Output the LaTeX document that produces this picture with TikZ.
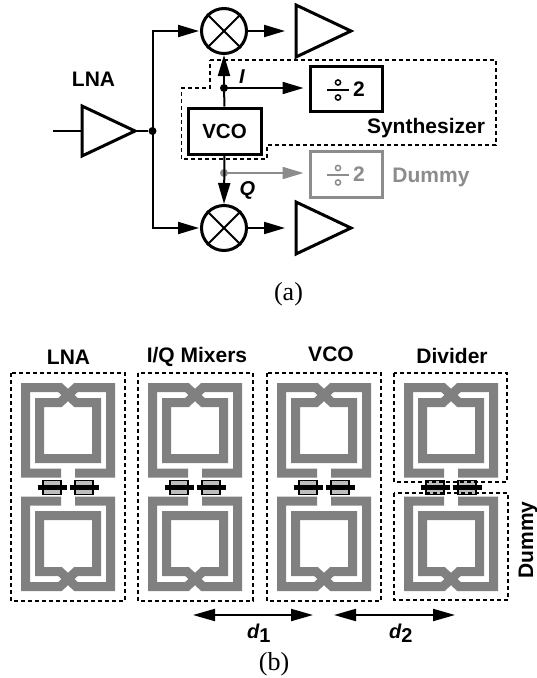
\documentclass[tikz,border=0pt]{standalone}
\usepackage{fontspec}
\setmainfont{Liberation Sans}
\newfontfamily\capfont{Liberation Serif}
\usetikzlibrary{arrows.meta}
\definecolor{dummygray}{HTML}{8C8C8C}
\definecolor{coilgray}{HTML}{808080}
\definecolor{fetgray}{HTML}{BDBDBD}
\tikzset{
  wire/.style={line width=2pt,line join=miter},
  tiparrow/.style={wire,-{Triangle[length=21pt,width=12pt]},shorten >=1pt},
  twoway/.style={wire,{Triangle[length=22pt,width=12pt]}-{Triangle[length=22pt,width=12pt]}},
  amp/.style={line width=3pt,line join=miter},
  mixer/.style={circle,draw,line width=3pt,minimum size=45pt,inner sep=0pt},
  blockbox/.style={rectangle,draw,line width=3pt,inner sep=0pt,font=\bfseries\fontsize{20.5}{22}\selectfont},
  junction/.style={circle,fill,inner sep=0pt,minimum size=8pt},
  dashbox/.style={line width=1.6pt,dash pattern=on 4pt off 3pt},
  lab/.style={font=\bfseries\fontsize{21}{23}\selectfont,inner sep=0pt},
  ital/.style={font=\bfseries\itshape\fontsize{20}{22}\selectfont,inner sep=0pt},
  captext/.style={font=\capfont\fontsize{26}{28}\selectfont,inner sep=0pt},
  coil/.style={coilgray,line width=9pt,line join=miter,miter limit=10},
}
\begin{document}
\begin{tikzpicture}[x=1pt,y=-1pt]
\useasboundingbox (0,0) rectangle (537,678);
\fill[white] (0,0) rectangle (537,678);

%% ---------- (a) ----------
\coordinate (in) at (53,131);
\coordinate (lnaL) at (82,131);
\coordinate (lnaR) at (135,131);
\node[junction] (split) at (152.5,131) {};
\node[mixer] (m1) at (224,31) {};
\node[mixer] (m2) at (224,228) {};
\coordinate (a1L) at (296,31);
\coordinate (a2L) at (296,228);
\draw[amp] (82,106) -- (135,131) -- (82,156) -- cycle;
\draw[amp] (296,5) -- (351,31) -- (296,57) -- cycle;
\draw[amp] (296,202) -- (351,228) -- (296,254) -- cycle;
\draw[wire] (m1.45) -- (m1.225);
\draw[wire] (m1.135) -- (m1.315);
\draw[wire] (m2.45) -- (m2.225);
\draw[wire] (m2.135) -- (m2.315);
\draw[wire] (in) -- (lnaL);
\draw[wire] (lnaR) -- (split);
\draw[tiparrow] (split.center) |- (m1.west);
\draw[tiparrow] (split.center) |- (m2.west);
\draw[tiparrow,shorten >=11pt] (m1.east) -- (a1L);
\draw[tiparrow,shorten >=11pt] (m2.east) -- (a2L);

\node[blockbox,minimum width=73pt,minimum height=46pt] (vco) at (224.5,131) {VCO};
\node[blockbox,minimum width=72pt,minimum height=45pt] (div) at (346,88.5) {};
\node[blockbox,draw=dummygray,minimum width=72pt,minimum height=46pt] (ddiv) at (346,174) {};

\node[junction] (iq) at (224,88) {};
\node[junction,dummygray] (qq) at (224,173) {};
\draw[wire,dummygray,-{Triangle[length=21pt,width=12pt]},shorten >=5pt] (qq.center) -- (qq.center -| ddiv.west);
\draw[wire] (vco.north) -- (iq.center);
\draw[tiparrow,shorten >=0pt] (iq.center) -- (m1.south);
\draw[tiparrow,shorten >=5pt] (iq.center) -- (iq.center -| div.west);
\draw[tiparrow,shorten >=0pt] (vco.south) -- (m2.north);

% divide-by-two signs
\draw[wire] (327,90) -- (349,90);
\draw[line width=1.5pt] (338,82.5) circle (2.6pt) (338,97.5) circle (2.6pt);
\node[lab] (two) at (359,89.5) {2};
\draw[wire,dummygray] (327,175) -- (349,175);
\draw[line width=1.5pt,dummygray] (338,168) circle (2.6pt) (338,182.5) circle (2.6pt);
\node[lab,text=dummygray] (dtwo) at (359,174.5) {2};

\draw[dashbox] (210,60) -- (496,60) -- (496,145) -- (267,145) -- (267,159) -- (181.5,159) -- (181.5,88) -- (210,88) -- cycle;

\node[lab] (lnaA) at (93.5,79) {LNA};
\node[ital] (ilab) at (242,77) {I};
\node[ital] (qlab) at (247.5,190) {Q};
\node[lab] (syn) at (426,128) {Synthesizer};
\node[lab,text=dummygray] (dum) at (431,177) {Dummy};
\node[captext] (capa) at (288.5,294) {(a)};

%% ---------- (b) ----------
\foreach \dx in {0,127,256,383} {
  \begin{scope}[xshift=\dx pt]
    \foreach \mir in {0,1} {
      \begin{scope}[yscale={1-2*\mir},yshift={974pt*\mir}]
        \draw[coil] (61,473) -- (25.5,473) -- (25.5,387.5) -- (60,387.5) -- (76,402.5)
          -- (96.5,402.5) -- (96.5,458.5) -- (39.5,458.5) -- (39.5,402.5) -- (60,402.5)
          -- (76,387.5) -- (110.5,387.5) -- (110.5,473) -- (75,473);
      \end{scope}
    }
    \foreach \fx in {52,84} {
      \draw[fill=fetgray,line width=1.5pt] (\fx-9,480.5) rectangle (\fx+9,494.5);
      \draw[line width=5pt] (\fx-14.5,487.5) -- (\fx+14.5,487.5);
    }
  \end{scope}
}

\draw[dashbox] (11,373) rectangle (125,601);
\draw[dashbox] (138,373) rectangle (253,601);
\draw[dashbox] (267,373) rectangle (381,601);
\draw[dashbox] (394,373) rectangle (507,482);
\draw[dashbox] (394,493) rectangle (508,600);

\node[lab] (lnaB) at (68.5,357) {LNA};
\node[lab] (iqm) at (197,357) {I/Q Mixers};
\node[lab] (vcoB) at (331,354.5) {VCO};
\node[lab] (dvd) at (452,356) {Divider};
\node[lab,rotate=90] (dumB) at (528,540) {Dummy};

\coordinate (d1L) at (193,615);
\coordinate (d1R) at (313,615);
\coordinate (d2L) at (334,615);
\coordinate (d2R) at (455,615);
\draw[twoway] (d1L) -- (d1R);
\draw[twoway] (d2L) -- (d2R);
\node[ital,anchor=base west] (d1) at (247,638) {d\raisebox{-4pt}{\bfseries\upshape 1}};
\node[ital,anchor=base west] (d2) at (389,638) {d\raisebox{-4pt}{\bfseries\upshape 2}};
\node[captext] (capb) at (274,664) {(b)};
\end{tikzpicture}
\end{document}
